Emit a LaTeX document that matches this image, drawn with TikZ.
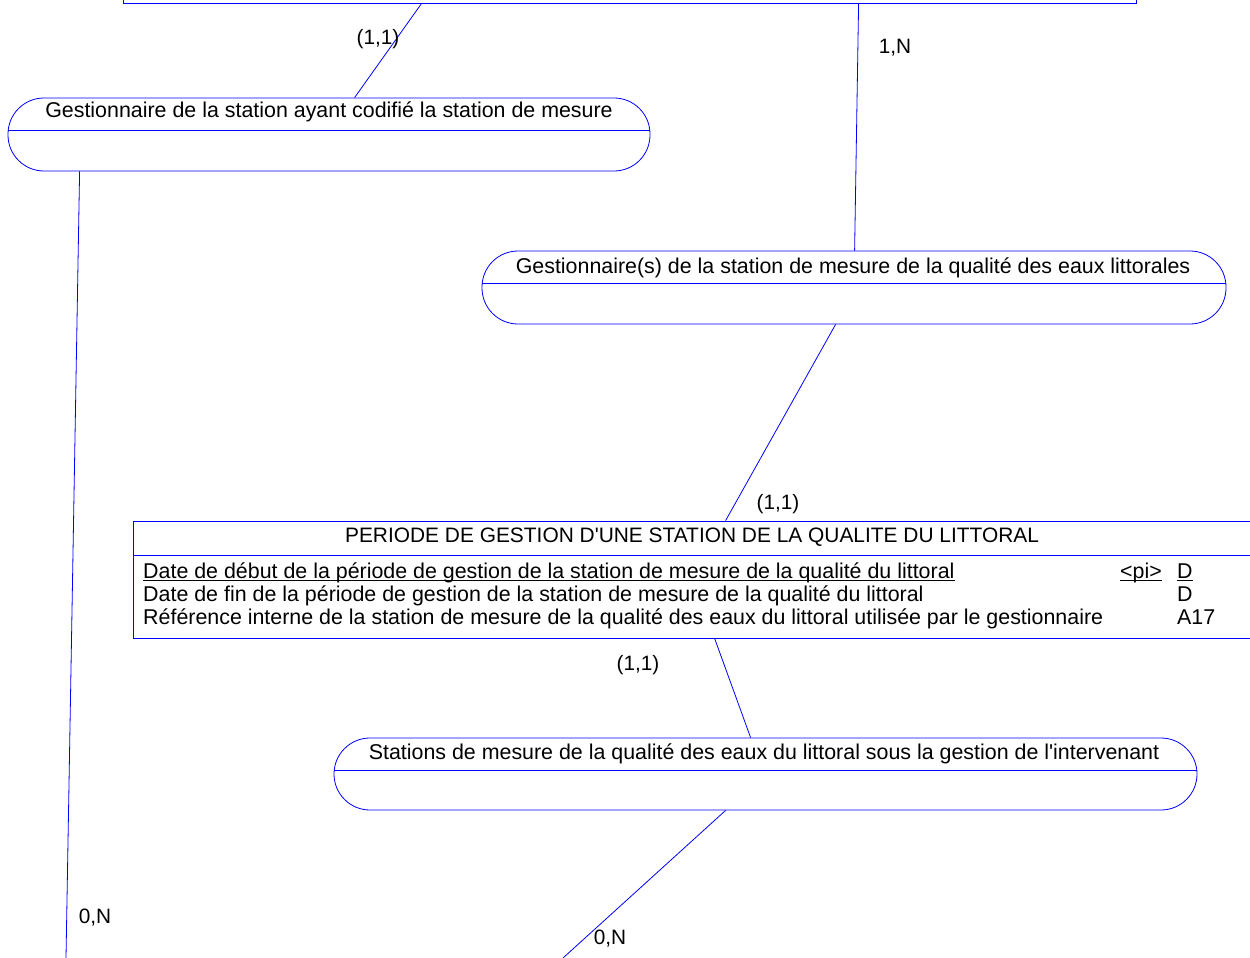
\documentclass[tikz,border=0pt]{standalone}
\usepackage{fontspec}
\setmainfont{Liberation Sans}[Ligatures=TeXOff]
\definecolor{lnblue}{RGB}{0,0,255}
\usetikzlibrary{calc}
\newcommand{\ulattr}[1]{{\setbox0\hbox{#1}\rlap{\rule[-3pt]{\wd0}{0.8pt}}\box0}}

\begin{document}
\begin{tikzpicture}[x=1pt, y=-1pt,
  every node/.style={font=\fontsize{21.4}{24}\selectfont, inner sep=0pt},
  ent/.style={draw=lnblue, line width=0.8pt, rounded corners=36pt, minimum height=73pt},
  tbl/.style={draw=lnblue, line width=0.8pt},
  lnk/.style={draw=lnblue, line width=0.8pt},
  card/.style={anchor=base, font=\fontsize{20.8}{24}\selectfont}]
\clip (0,0) rectangle (1250,958);
% entities
\node[tbl, minimum width=1013pt, minimum height=80pt] (stat) at (629.5,-37) {};
\node[ent, minimum width=642pt] (gcod) at (329,134.5) {};
\node[anchor=base] (gcodt) at (329,117) {Gestionnaire de la station ayant codifié la station de mesure};
\draw[lnk] ([yshift=-33pt]gcod.north west) -- ([yshift=-33pt]gcod.north east);
\node[ent, minimum width=744pt] (gest) at (854,287.5) {};
\node[anchor=base] (gestt) at (853,273) {Gestionnaire(s) de la station de mesure de la qualité des eaux littorales};
\draw[lnk] ([yshift=-33pt]gest.north west) -- ([yshift=-33pt]gest.north east);
\node[ent, minimum width=863pt, minimum height=72pt] (stgi) at (765.5,774) {};
\node[anchor=base] (stgit) at (764,759) {Stations de mesure de la qualité des eaux du littoral sous la gestion de l'intervenant};
\draw[lnk] ([yshift=-33pt]stgi.north west) -- ([yshift=-33pt]stgi.north east);
% periode
\node[tbl, minimum width=1119pt, minimum height=117pt] (per) at (692.5,579.5) {};
\node[anchor=base, font=\fontsize{20.9}{24}\selectfont] (pert) at (692,542) {PERIODE DE GESTION D'UNE STATION DE LA QUALITE DU LITTORAL};
\draw[lnk] ([yshift=-35pt]per.north west) -- ([yshift=-35pt]per.north east);
\node[anchor=base west] (a1) at (143,578) {\ulattr{Date de début de la période de gestion de la station de mesure de la qualité du littoral}};
\node[anchor=base west] (a2) at (143,601) {Date de fin de la période de gestion de la station de mesure de la qualité du littoral};
\node[anchor=base west] (a3) at (143,624) {Référence interne de la station de mesure de la qualité des eaux du littoral utilisée par le gestionnaire};
\node[anchor=base west] (a1k) at (1120,578) {\ulattr{<pi>}};
\node[anchor=base west] (a1d) at (1177,578) {\ulattr{D}};
\node[anchor=base west] (a2d) at (1177,601) {D};
\node[anchor=base west] (a3d) at (1177,624) {A17};
% liens
\coordinate (bot1) at (66,958);
\coordinate (bot2) at (563,958);
\draw[lnk] ([xshift=299pt]stat.south west) -- ([xshift=347pt]gcod.north west);
\draw[lnk] ([xshift=736pt]stat.south west) -- ([xshift=373pt]gest.north west);
\draw[lnk] ([xshift=354pt]gest.south west) -- ([xshift=593pt]per.north west);
\draw[lnk] ([xshift=582pt]per.south west) -- ([xshift=417pt]stgi.north west);
\draw[lnk] ([xshift=392pt]stgi.south west) -- (bot2);
\draw[lnk] ([xshift=72pt]gcod.south west) -- (bot1);
% cardinalites
\node[card] (c1) at (378,45) {(1,1)};
\node[card] (c2) at (895,53) {1,N};
\node[card] (c3) at (778,509) {(1,1)};
\node[card] (c4) at (638,670) {(1,1)};
\node[card] (c5) at (610,944) {0,N};
\node[card] (c6) at (95,923) {0,N};
\end{tikzpicture}
\end{document}
